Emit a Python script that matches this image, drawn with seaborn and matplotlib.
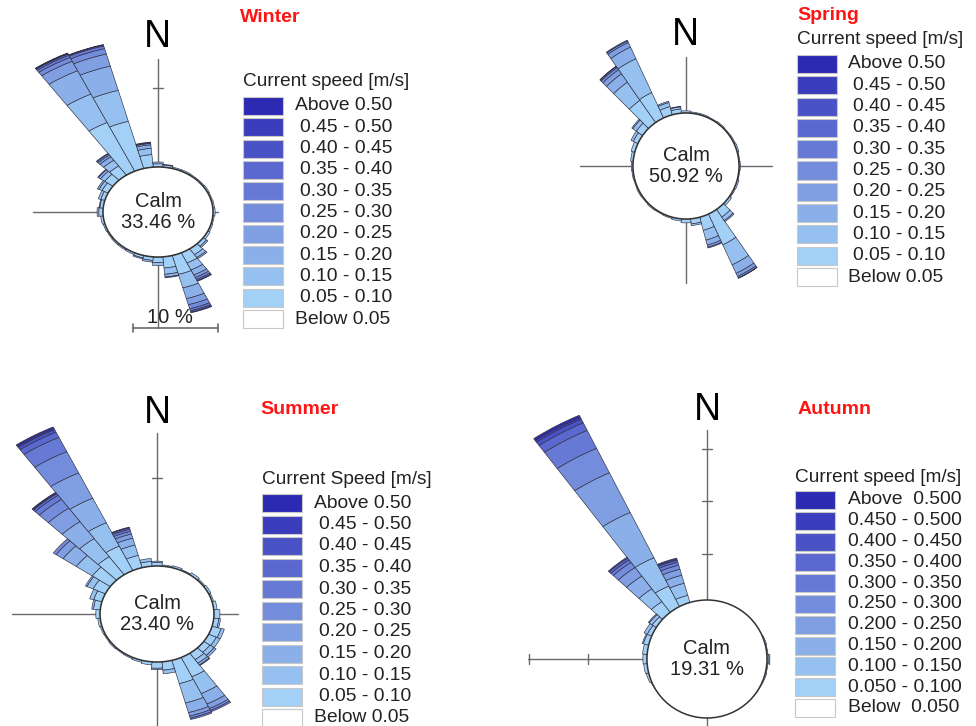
import numpy as np
import matplotlib
matplotlib.use("Agg")
import matplotlib.pyplot as plt
from matplotlib.patches import Rectangle, Ellipse
import seaborn as sns

sns.set_theme(style="white")
plt.rcParams["font.family"] = ["Liberation Sans", "DejaVu Sans"]

W, H = 976, 726

# ---------------------------------------------------------------- data
# 10-degree direction sectors (direction the current flows towards)
DIRECTIONS = np.arange(0, 360, 10)

# frequency (%) per sector, stacked by speed class starting at 0.05-0.10 m/s
winter_rose = [
    [0.45, 0.25], [0.3, 0.1], [0.2], [0.2], [0.15], [0.15], [0.2], [0.15], [0.2],
    [0.25], [0.15], [0.2], [0.3], [0.5, 0.2], [1.0, 0.5, 0.2],
    [1.6, 1.1, 0.8, 0.4, 0.3, 0.2, 0.1],
    [2.8, 2.0, 1.6, 0.9, 0.6, 0.3, 0.2, 0.1],
    [1.6, 0.9, 0.4, 0.1], [0.8, 0.4], [0.5, 0.25], [0.35, 0.15], [0.25], [0.2],
    [0.2], [0.15], [0.2], [0.3], [0.5, 0.2], [0.4, 0.1], [0.5, 0.3],
    [0.8, 0.4, 0.2], [1.2, 0.6, 0.3, 0.1],
    [1.6, 1.0, 0.6, 0.3, 0.2, 0.1],
    [7.7, 4.5, 3.7, 1.5, 0.6, 0.35, 0.2, 0.1, 0.05],
    [7.0, 4.6, 3.6, 1.8, 0.8, 0.4, 0.15, 0.05],
    [1.8, 0.9, 0.5, 0.2, 0.1, 0.1],
]
spring_rose = [
    [0.25], [0.15], [0.15], [0.1], [0.15], [0.1], [0.15], [0.2], [0.1],
    [0.15], [0.1], [0.2], [0.15], [0.3], [1.1, 0.5, 0.15],
    [4.0, 2.6, 1.1, 0.4, 0.2, 0.05],
    [1.6, 1.2, 0.6, 0.25, 0.1],
    [0.6, 0.2], [0.45], [0.25], [0.15], [0.1], [0.15], [0.1], [0.15], [0.1],
    [0.15], [0.2], [0.3], [0.45], [0.6, 0.3], [0.9, 0.5, 0.15],
    [3.2, 2.6, 1.2, 0.6, 0.3, 0.15, 0.05],
    [3.3, 4.4, 1.5, 0.6, 0.2, 0.1],
    [1.0, 0.5, 0.15], [0.5, 0.25, 0.05],
]
summer_rose = [
    [0.5, 0.2], [0.2], [0.3], [0.15], [0.35], [0.2], [0.3], [0.2], [0.4],
    [0.7], [0.6, 0.2], [1.1, 0.4], [1.0, 0.5], [0.9, 0.6, 0.3],
    [1.1, 0.6, 0.3, 0.1],
    [3.0, 2.6, 1.6, 0.7, 0.3, 0.2],
    [3.4, 2.8, 1.4, 0.5, 0.3, 0.2],
    [1.2, 0.5], [0.9, 0.2], [0.45], [0.3], [0.2], [0.15], [0.2], [0.15],
    [0.2], [0.3], [0.5], [0.8, 0.2], [1.0, 0.5], [1.6, 0.8, 0.2],
    [2.6, 2.3, 1.9, 1.0, 0.4],
    [3.1, 3.1, 2.9, 2.3, 1.5, 0.7, 0.3, 0.1, 0.1],
    [3.8, 3.6, 3.8, 3.9, 3.3, 2.2, 0.8, 0.4, 0.2, 0.2],
    [1.8, 1.5, 1.0, 0.6, 0.4, 0.3, 0.2, 0.1],
    [0.7, 0.4],
]
autumn_rose = [
    [0.2], [0.1], [0.1], [0.1], [0.15], [0.1], [0.1], [0.15], [0.1],
    [0.15], [0.1], [0.15], [0.15], [0.2], [0.15], [0.2], [0.2], [0.3, 0.1],
    [0.3, 0.1], [0.3, 0.1], [0.15], [0.15], [0.1], [0.15], [0.15], [0.25],
    [0.3], [0.35], [0.4], [0.5, 0.1], [0.5, 0.3], [0.6, 0.3, 0.1],
    [1.6, 1.5, 1.5, 1.0, 0.6, 0.3, 0.2, 0.1],
    [2.6, 3.0, 4.8, 4.2, 2.6, 1.9, 0.8, 0.4, 0.2, 0.2],
    [1.2, 1.2, 0.8, 0.6, 0.4, 0.3, 0.2, 0.1, 0.1],
    [0.3],
]

calm_pct = {"Winter": 33.46, "Spring": 50.92, "Summer": 23.40, "Autumn": 19.31}

labels_2dp = ["Above 0.50", "0.45 - 0.50", "0.40 - 0.45", "0.35 - 0.40",
              "0.30 - 0.35", "0.25 - 0.30", "0.20 - 0.25", "0.15 - 0.20",
              "0.10 - 0.15", "0.05 - 0.10", "Below 0.05"]
labels_3dp = ["Above  0.500", "0.450 - 0.500", "0.400 - 0.450", "0.350 - 0.400",
              "0.300 - 0.350", "0.250 - 0.300", "0.200 - 0.250", "0.150 - 0.200",
              "0.100 - 0.150", "0.050 - 0.100", "Below  0.050"]

# ---------------------------------------------------------------- style
speed_colors = sns.blend_palette(["#a2d0f6", "#7f9fe2", "#5a68cf", "#2c2ab2"], 10)
legend_colors = list(speed_colors[::-1]) + ["white"]
EDGE = "#2e2e40"
LINE = "#6a6a6a"
TXT = "#222222"

fig = plt.figure(figsize=(W / 100, H / 100), dpi=100)


def fx(x):
    return x / W


def fy(y):
    return 1 - y / H


def draw_rose(name, rows, cx, cy, sx, k, r0, rmax, lines, ticks,
              n_xy, calm_ry, scale_bar=None):
    sy = sx * k
    rect = [fx(cx - rmax * sx), fy(cy + rmax * sy),
            2 * rmax * sx / W, 2 * rmax * sy / H]

    # compass lines underneath the rose
    axl = fig.add_axes(rect, label=name + "-lines")
    axl.set_xlim(-rmax, rmax)
    axl.set_ylim(-rmax, rmax)
    axl.set_axis_off()
    axl.set_zorder(0)
    vec = {"N": (0, 1), "E": (1, 0), "S": (0, -1), "W": (-1, 0)}
    for d, r in lines.items():
        ux, uy = vec[d]
        axl.plot([0, ux * r], [0, uy * r], color=LINE, lw=1.0)
    hx, hy = 5 / sx, 5 / sy
    for d, r in ticks:
        ux, uy = vec[d]
        if ux == 0:
            axl.plot([-hx, hx], [uy * r, uy * r], color=LINE, lw=1.0)
        else:
            axl.plot([ux * r, ux * r], [-hy, hy], color=LINE, lw=1.0)

    # stacked petals
    axp = fig.add_axes(rect, projection="polar", label=name + "-rose")
    axp.set_aspect("auto")
    axp.set_zorder(1)
    axp.patch.set_alpha(0)
    axp.set_theta_zero_location("N")
    axp.set_theta_direction(-1)
    mat = np.zeros((len(rows), 10))
    for i, row in enumerate(rows):
        mat[i, :len(row)] = row
    theta = np.radians(DIRECTIONS)
    base = np.full(len(rows), r0)
    for j in range(10):
        m = mat[:, j] > 0
        axp.bar(theta[m], mat[m, j], width=np.radians(10), bottom=base[m],
                color=speed_colors[j], edgecolor=EDGE, linewidth=0.45,
                align="center", zorder=2)
        base = base + mat[:, j]
    axp.set_ylim(0, rmax)
    axp.set_axis_off()

    # calm disc, labels and scale bar on top
    axc = fig.add_axes(rect, label=name + "-calm")
    axc.set_xlim(-rmax, rmax)
    axc.set_ylim(-rmax, rmax)
    axc.set_axis_off()
    axc.set_zorder(2)
    axc.patch.set_alpha(0)
    axc.add_patch(Ellipse((0, 0), 2 * r0, 2 * calm_ry / sy, facecolor="white",
                          edgecolor="#333333", lw=1.1))
    axc.text(0, 0, f"Calm\n{calm_pct[name]:.2f} %", ha="center", va="center",
             fontsize=14.5, color=TXT, linespacing=1.15)
    if scale_bar is not None:
        x0, yb, length = scale_bar
        axc.plot([x0, x0 + length], [yb, yb], color=LINE, lw=1.2)
        for xe in (x0, x0 + length):
            axc.plot([xe, xe], [yb - hy * 0.8, yb + hy * 0.8], color=LINE, lw=1.2)
        axc.text(x0 + length * 0.43, yb + 1.5, f"{length:g} %", ha="center",
                 va="center", fontsize=14.5, color=TXT)

    fig.text(fx(n_xy[0]), fy(n_xy[1]), "N", ha="center", va="center",
             fontsize=27, color="black")


def draw_legend(title, labels, x0, y_title, y_first, pitch, label_x, indent):
    fig.text(fx(x0), fy(y_title), title, ha="left", va="center",
             fontsize=13.7, color=TXT)
    for i, lab in enumerate(labels):
        yc = y_first + i * pitch
        fig.add_artist(Rectangle((fx(x0), fy(yc + 9)), 40 / W, 18 / H,
                                 transform=fig.transFigure,
                                 facecolor=legend_colors[i],
                                 edgecolor="#c8c8c8", lw=0.8))
        end = i in (0, len(labels) - 1)
        fig.text(fx(label_x if end else label_x + indent), fy(yc), lab,
                 ha="left", va="center", fontsize=13.9, color=TXT)


def season_title(text, x, y):
    fig.text(fx(x), fy(y), text, ha="left", va="center", fontsize=14,
             fontweight="bold", color="#ff1414")


# ---------------------------------------------------------------- panels
draw_rose("Winter", winter_rose, cx=158, cy=212, sx=8.5, k=0.82, r0=6.47,
          rmax=27, lines={"N": 22.0, "S": 16.6, "W": 14.7, "E": 7.06},
          ticks=[("N", 17.8)], n_xy=(157, 37), calm_ry=45,
          scale_bar=(-2.94, -16.6, 10))
draw_rose("Spring", spring_rose, cx=686, cy=166, sx=8.5, k=1.0, r0=6.24,
          rmax=18, lines={"N": 12.8, "S": 13.8, "W": 12.5, "E": 10.1},
          ticks=[], n_xy=(685, 35), calm_ry=53)
draw_rose("Summer", summer_rose, cx=157, cy=614, sx=8.5, k=0.84, r0=6.7,
          rmax=30, lines={"N": 25.4, "S": 17.0, "W": 17.1, "E": 9.5},
          ticks=[("N", 19.0)], n_xy=(157, 413), calm_ry=48)
draw_rose("Autumn", autumn_rose, cx=707, cy=659, sx=11.7, k=0.89, r0=5.13,
          rmax=27, lines={"N": 22.0, "S": 7.0, "W": 15.3, "E": 5.3},
          ticks=[("N", 10.13), ("N", 15.13), ("N", 20.13), ("W", 10.13),
                 ("W", 15.2), ("E", 5.3)],
          n_xy=(707, 410), calm_ry=59)

season_title("Winter", 240, 18)
season_title("Spring", 797, 16)
season_title("Summer", 260, 409)
season_title("Autumn", 798, 409)

draw_legend("Current speed [m/s]", labels_2dp, 243, 82, 106, 21.3, 295, 5)
draw_legend("Current speed [m/s]", labels_2dp, 797, 40, 64, 21.3, 848, 5)
draw_legend("Current Speed [m/s]", labels_2dp, 262, 480, 503, 21.5, 314, 5)
draw_legend("Current speed [m/s]", labels_3dp, 795, 478, 500, 20.8, 848, 0)

fig.savefig("out.png", dpi=100, facecolor="white")
